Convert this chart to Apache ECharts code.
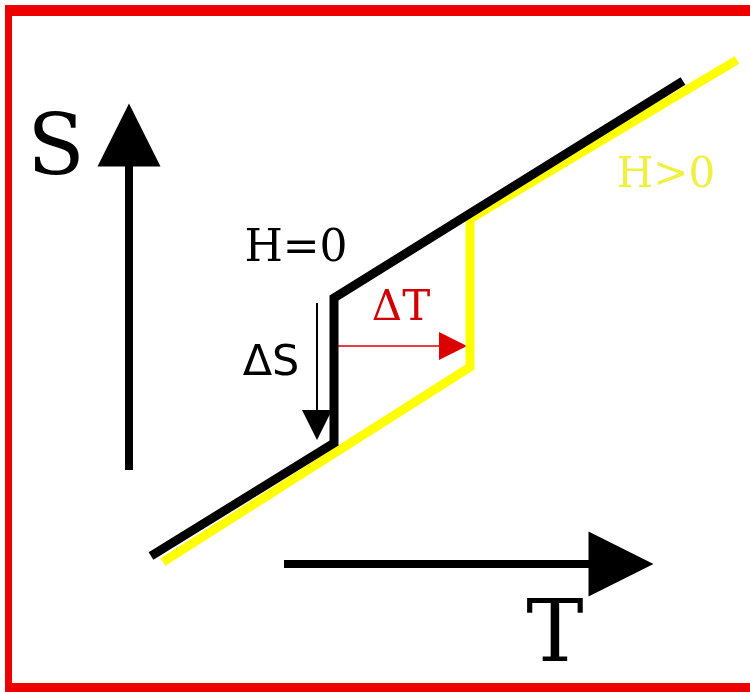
<!DOCTYPE html>
<html lang="en" style="height: 100%">
<head>
    <meta charset="UTF-8">
    <title>S-T diagram</title>
    <script src="https://cdn.jsdelivr.net/npm/echarts@6/dist/echarts.min.js"></script>
</head>
<body style="height: 100%; margin: 0; background: #fff">
<div id="main" style="width: 750px; height: 692px"></div>
<script>
    // curves, in picture coordinates (x right, y down)
    var blackLine = [[151, 556], [334, 443], [334, 298], [683, 81]];    // H=0
    var yellowLine = [[163, 562], [470, 367], [470, 219], [737, 60]];   // H>0

    // arrows: start, end (end = centre of the head)
    var sArrow = [[129, 470], [129, 135]];
    var tArrow = [[284, 564], [621, 564]];
    var dsArrow = [[317, 303], [317, 425]];
    var dtArrow = [[334, 346], [453, 346]];

    var labelNames = ['S', 'T', 'H=0', '\u0394S', '\u0394T', 'H>0'];
    var labelPos = [[56, 152], [555, 639], [296, 250], [271, 364], [401, 309], [666, 176]];

    var serif = 'DejaVu Serif';
    var sans = 'DejaVu Sans';

    function arrowSeries(coords, color, width, head) {
        return {
            type: 'lines',
            coordinateSystem: 'cartesian2d',
            silent: true,
            symbol: ['none', 'triangle'],
            symbolSize: head,
            lineStyle: {color: color, width: width, opacity: 1, curveness: 0, cap: 'butt'},
            data: [{coords: coords}]
        };
    }

    var labelStyles = [
        {fontFamily: serif, fontSize: 84, color: '#000'},
        {fontFamily: serif, fontSize: 86, color: '#000'},
        {fontFamily: serif, fontSize: 44, color: '#000'},
        {fontFamily: sans, fontSize: 43, color: '#000'},
        {fontFamily: serif, fontSize: 42, color: '#d00000'},
        {fontFamily: serif, fontSize: 42, color: '#f0f040'}
    ];

    var labelData = labelNames.map(function (n, i) {
        return {
            name: n,
            value: labelPos[i],
            label: Object.assign({show: true, formatter: '{b}', position: 'inside',
                align: 'center', verticalAlign: 'middle', opacity: 1}, labelStyles[i])
        };
    });

    var option = {
        backgroundColor: '#fff',
        animation: false,
        grid: {left: 0, right: 0, top: 0, bottom: 0},
        xAxis: {type: 'value', min: 0, max: 750, show: false},
        yAxis: {type: 'value', min: 0, max: 692, inverse: true, show: false},
        graphic: [
            {type: 'rect', shape: {x: 5, y: 5, width: 745, height: 11}, style: {fill: '#ee0000'}},
            {type: 'rect', shape: {x: 5, y: 5, width: 7, height: 687}, style: {fill: '#ee0000'}},
            {type: 'rect', shape: {x: 5, y: 683, width: 745, height: 9}, style: {fill: '#ee0000'}}
        ],
        series: [
            {
                name: 'H>0', type: 'line', data: yellowLine, showSymbol: false, silent: true,
                lineStyle: {color: '#ffff00', width: 9, cap: 'butt', join: 'miter'}
            },
            {
                name: 'H=0', type: 'line', data: blackLine, showSymbol: false, silent: true,
                lineStyle: {color: '#000', width: 9, cap: 'butt', join: 'miter'}
            },
            arrowSeries(sArrow, '#000', 8, [43, 63]),
            arrowSeries(tArrow, '#000', 8, [42, 65]),
            arrowSeries(dsArrow, '#000', 2, [20, 30]),
            arrowSeries(dtArrow, '#dd0000', 1.5, [15, 28]),
            {
                type: 'scatter', symbolSize: 0, silent: true,
                itemStyle: {opacity: 1},
                data: labelData
            }
        ]
    };

    var myChart = echarts.init(document.getElementById('main'));
    myChart.setOption(option);
</script>
</body>
</html>
